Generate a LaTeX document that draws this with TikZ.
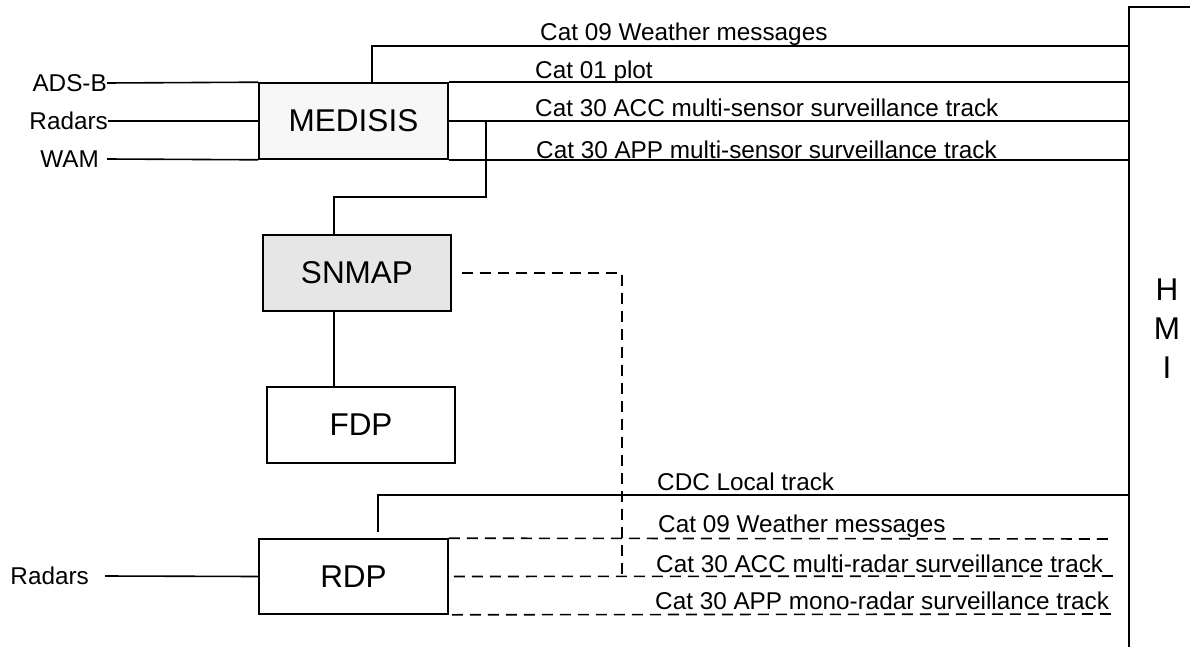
\documentclass[tikz,border=0pt]{standalone}
\usepackage{fontspec}
\setmainfont{Liberation Sans}
\definecolor{medfill}{RGB}{247,247,247}
\definecolor{snfill}{RGB}{230,230,230}
\begin{document}
\begin{tikzpicture}[x=1pt,y=-1pt,
  conn/.style={line width=1.6pt},
  dconn/.style={line width=1.6pt, dash pattern=on 11pt off 7pt},
  box/.style={draw, line width=1.6pt, inner sep=0pt, font=\fontsize{31.5}{36}\selectfont},
  lbl/.style={inner sep=0pt, font=\fontsize{24.3}{28}\selectfont},
]
\useasboundingbox (0,0) rectangle (1190,647);
% boxes
\node[box, fill=medfill, minimum width=189pt, minimum height=76pt] (medisis) at (353.5,121) {MEDISIS};
\node[box, fill=snfill, minimum width=188pt, minimum height=76pt] (snmap) at (357,273) {SNMAP};
\node[box, minimum width=188pt, minimum height=76pt] (fdp) at (361,425) {FDP};
\node[box, minimum width=189pt, minimum height=75pt] (rdp) at (353.5,576.5) {RDP};
% HMI
\coordinate (hmiright) at (1190,7);
\coordinate (hmitop) at (1129,7);
\coordinate (hmibot) at (1129,647);
\draw[conn] (hmiright) -- (hmitop) -- (hmibot);
\node[lbl, font=\fontsize{31.5}{39}\selectfont, align=center] (hmi) at (1167,329) {H\\M\\I};
% left inputs
\node[lbl, anchor=east] (adsb) at (107,83) {ADS-B};
\node[lbl, anchor=east] (radars) at (108,121) {Radars};
\node[lbl, anchor=east] (wam) at (99,159) {WAM};
\node[lbl, anchor=east] (radars2) at (89,576) {Radars};
\draw[conn] (adsb.east) -- (medisis.north west);
\draw[conn] (radars.east) -- (medisis.west);
\draw[conn] (wam.east) ++(8,0) -- (medisis.south west);
\draw[conn] (radars2.east) ++(16,0) -- (rdp.west);
% MEDISIS outputs
\coordinate (wx) at (372,46);
\draw[conn] (wx |- medisis.north) -- (wx) -- (wx -| hmitop);
\draw[conn] (medisis.north east) -- (medisis.north east -| hmitop);
\draw[conn] (medisis.east) -- (medisis.east -| hmitop);
\draw[conn] (medisis.south east) -- (medisis.south east -| hmitop);
\node[lbl, anchor=base west] (t1) at (540,41) {Cat 09 Weather messages};
\node[lbl, anchor=base west] (t2) at (535,79) {Cat 01 plot};
\node[lbl, anchor=base west] (t3) at (535,117) {Cat 30 ACC multi-sensor surveillance track};
\node[lbl, anchor=base west] (t4) at (536,159) {Cat 30 APP multi-sensor surveillance track};
% MEDISIS - SNMAP - FDP
\coordinate (sx) at (486,197);
\coordinate (sy) at (334,197);
\draw[conn] (sx |- medisis.east) -- (sx) -- (sy) -- (sy |- snmap.north);
\draw[conn] (sy |- snmap.south) -- (sy |- fdp.north);
% SNMAP dashed
\coordinate (dc) at (622,273);
\draw[dconn] (snmap.east) ++(10,0) -- (dc) -- (dc |- rdp.east);
% RDP outputs
\coordinate (cx) at (378,495);
\draw[conn] (cx) ++(0,37) -- (cx) -- (cx -| hmitop);
\coordinate (e1) at (1113,539);
\coordinate (e2) at (1119,576);
\coordinate (e3) at (1117,614);
\draw[dconn] (rdp.north east) -- (e1);
\draw[dconn] (rdp.east) ++(5,0) -- (e2);
\draw[dconn] (rdp.south east) ++(3,0) -- (e3);
\node[lbl, anchor=base west] (b1) at (657,490) {CDC Local track};
\node[lbl, anchor=base west] (b2) at (658,532) {Cat 09 Weather messages};
\node[lbl, anchor=base west] (b3) at (656,572) {Cat 30 ACC multi-radar surveillance track};
\node[lbl, anchor=base west] (b4) at (655,609) {Cat 30 APP mono-radar surveillance track};
\end{tikzpicture}
\end{document}
